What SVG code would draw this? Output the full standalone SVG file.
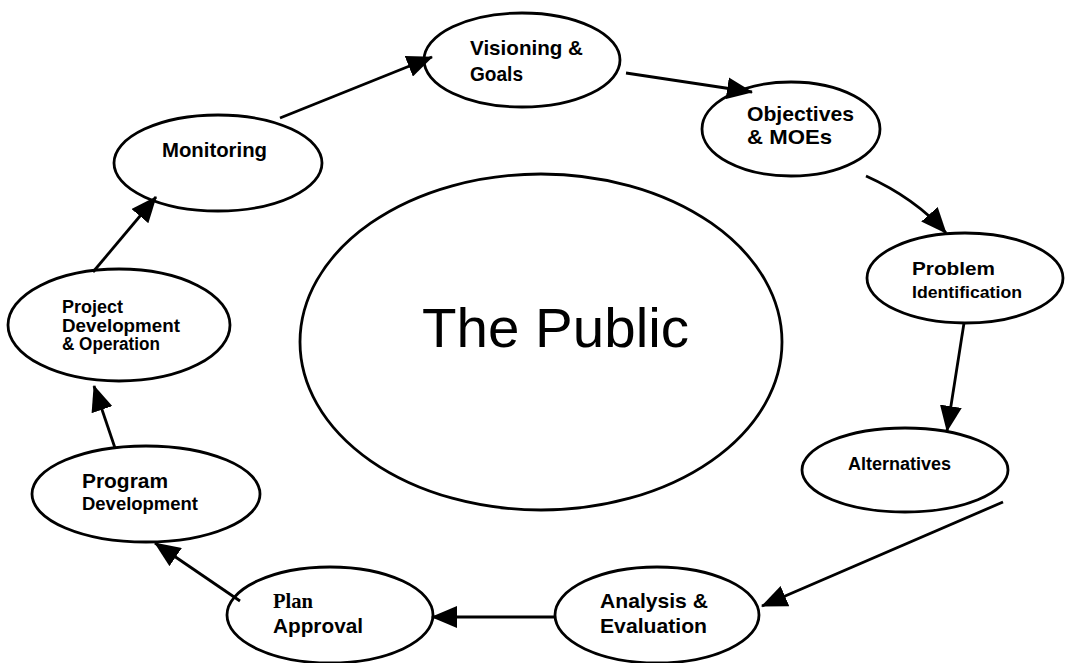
<svg xmlns="http://www.w3.org/2000/svg" width="1069" height="663" viewBox="0 0 1069 663">
  <style>
    .node { fill: #ffffff; stroke: #000000; stroke-width: 2.8; }
    .lbl { font-family: "Liberation Sans", Arial, sans-serif; font-weight: bold; fill: #000000; }
    .serif { font-family: "Liberation Serif", "Times New Roman", serif; font-weight: bold; fill: #000000; }
    .edge { fill: none; stroke: #000000; stroke-width: 2.8; }
  </style>
  <defs>
    <marker id="head" viewBox="0 0 26 22" refX="25" refY="11" markerWidth="26" markerHeight="22" markerUnits="userSpaceOnUse" orient="auto">
      <path d="M0,0 L26,11 L0,22 z" fill="#000000"/>
    </marker>
  </defs>
  <rect width="1069" height="663" fill="#ffffff"/>

  <!-- centre -->
  <g id="the-public">
    <ellipse class="node" cx="541" cy="342" rx="241" ry="168"/>
    <text x="422" y="347" font-family="Liberation Sans, Arial, sans-serif" font-size="55" textLength="267" lengthAdjust="spacingAndGlyphs">The Public</text>
  </g>

  <!-- cycle nodes -->
  <g id="visioning">
    <ellipse class="node" cx="522" cy="60" rx="98" ry="47"/>
    <text class="lbl" x="470" y="55" font-size="21" textLength="113" lengthAdjust="spacingAndGlyphs">Visioning &amp;</text>
    <text class="lbl" x="470" y="81" font-size="21" textLength="53" lengthAdjust="spacingAndGlyphs">Goals</text>
  </g>

  <g id="objectives">
    <ellipse class="node" cx="791" cy="129" rx="89" ry="47"/>
    <text class="lbl" x="747" y="121" font-size="21" textLength="107" lengthAdjust="spacingAndGlyphs">Objectives</text>
    <text class="lbl" x="747" y="144" font-size="21" textLength="85" lengthAdjust="spacingAndGlyphs">&amp; MOEs</text>
  </g>

  <g id="problem">
    <ellipse class="node" cx="965" cy="278" rx="98" ry="45"/>
    <text class="lbl" x="912" y="275" font-size="19" textLength="83" lengthAdjust="spacingAndGlyphs">Problem</text>
    <text class="lbl" x="912" y="298" font-size="17" textLength="110" lengthAdjust="spacingAndGlyphs">Identification</text>
  </g>

  <g id="alternatives">
    <ellipse class="node" cx="905" cy="470" rx="103" ry="42"/>
    <text class="lbl" x="848" y="470" font-size="18" textLength="103" lengthAdjust="spacingAndGlyphs">Alternatives</text>
  </g>

  <g id="analysis">
    <ellipse class="node" cx="657" cy="615" rx="102" ry="48"/>
    <text class="lbl" x="600" y="608" font-size="21" textLength="108" lengthAdjust="spacingAndGlyphs">Analysis &amp;</text>
    <text class="lbl" x="600" y="633" font-size="21" textLength="107" lengthAdjust="spacingAndGlyphs">Evaluation</text>
  </g>

  <g id="plan-approval">
    <ellipse class="node" cx="330" cy="615" rx="103" ry="48"/>
    <text class="serif" x="273" y="608" font-size="21" textLength="40" lengthAdjust="spacingAndGlyphs">Plan</text>
    <text class="lbl" x="273" y="633" font-size="21" textLength="90" lengthAdjust="spacingAndGlyphs">Approval</text>
  </g>

  <g id="program-development">
    <ellipse class="node" cx="146" cy="494" rx="114" ry="48"/>
    <text class="lbl" x="82" y="488" font-size="21" textLength="86" lengthAdjust="spacingAndGlyphs">Program</text>
    <text class="lbl" x="82" y="510" font-size="18" textLength="116" lengthAdjust="spacingAndGlyphs">Development</text>
  </g>

  <g id="project-development">
    <ellipse class="node" cx="119" cy="325" rx="111" ry="56"/>
    <text class="lbl" x="62" y="313" font-size="18" textLength="61" lengthAdjust="spacingAndGlyphs">Project</text>
    <text class="lbl" x="62" y="332" font-size="18" textLength="118" lengthAdjust="spacingAndGlyphs">Development</text>
    <text class="lbl" x="62" y="350" font-size="18" textLength="98" lengthAdjust="spacingAndGlyphs">&amp; Operation</text>
  </g>

  <g id="monitoring">
    <ellipse class="node" cx="218" cy="163" rx="104" ry="48"/>
    <text class="lbl" x="162" y="157" font-size="20" textLength="105" lengthAdjust="spacingAndGlyphs">Monitoring</text>
  </g>

  <!-- connectors -->
  <g id="connectors">
    <path class="edge" d="M280,118 L432,57" marker-end="url(#head)"/>
    <path class="edge" d="M626,73 L752,92" marker-end="url(#head)"/>
    <path class="edge" d="M866,176 Q915,198 946,233" marker-end="url(#head)"/>
    <path class="edge" d="M964,323 L947,431" marker-end="url(#head)"/>
    <path class="edge" d="M1003,502 L762,606" marker-end="url(#head)"/>
    <path class="edge" d="M555,617 L432,617" marker-end="url(#head)"/>
    <path class="edge" d="M240,601 L155,543" marker-end="url(#head)"/>
    <path class="edge" d="M115,448 L94,386" marker-end="url(#head)"/>
    <path class="edge" d="M93,272 L156,197" marker-end="url(#head)"/>
  </g>
</svg>
